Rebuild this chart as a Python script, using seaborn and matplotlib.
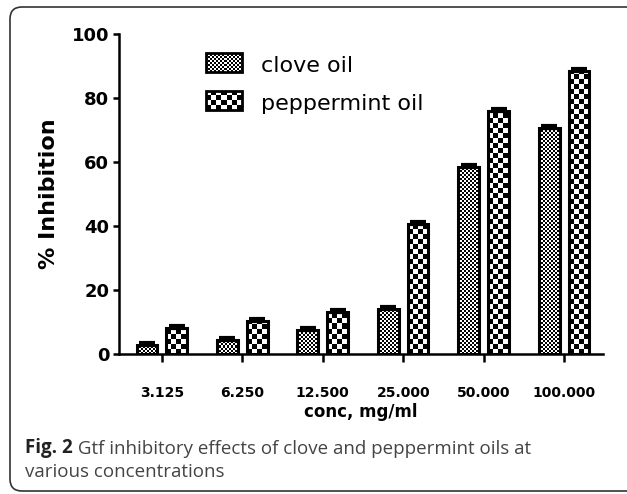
import numpy as np
import pandas as pd
import matplotlib
matplotlib.use("Agg")
import matplotlib.pyplot as plt
from matplotlib.patches import FancyBboxPatch, Rectangle
from matplotlib.transforms import IdentityTransform
import seaborn as sns

# values (% inhibition, upper error bar)
conc_labels = ["3.125", "6.250", "12.500", "25.000", "50.000", "100.000"]
oils = ["clove oil", "peppermint oil"]
clove_oil = [2.8, 4.4, 7.5, 14.0, 58.3, 70.5]
peppermint_oil = [8.0, 10.3, 13.2, 40.6, 76.0, 88.4]
clove_err = [0.6, 0.6, 0.6, 0.7, 0.7, 0.6]
peppermint_err = [0.6, 0.6, 0.6, 0.7, 0.7, 0.6]

df = pd.DataFrame({
    "conc": conc_labels * 2,
    "oil": [oils[0]] * len(conc_labels) + [oils[1]] * len(conc_labels),
    "inhibition": clove_oil + peppermint_oil,
})
errs = {oils[0]: clove_err, oils[1]: peppermint_err}
cells = {oils[0]: 2, oils[1]: 5}   # checker cell size in pixels

sns.set_style("ticks", {"axes.edgecolor": "black", "xtick.color": "black",
                        "ytick.color": "black", "text.color": "black",
                        "axes.labelcolor": "black"})
plt.rcParams["font.family"] = ["DejaVu Sans"]

W, H = 627, 494
fig = plt.figure(figsize=(W / 100, H / 100), dpi=100)
ax = fig.add_axes([119 / W, 1 - 354 / H, (603 - 119) / W, (354 - 34) / H])

sns.barplot(data=df, x="conc", y="inhibition", hue="oil", order=conc_labels,
            hue_order=oils, palette=["white", "white"], edgecolor="black",
            linewidth=2.2, width=0.74, gap=0.3, legend=False, ax=ax, zorder=3)

ax.set_xlim(-0.533, 5.484)
ax.set_ylim(0, 100)
ax.set_autoscale_on(False)


def checker(ax, x0, y0, w, h, cell, trans, clip):
    p0 = trans.transform((x0, y0))
    p1 = trans.transform((x0 + w, y0 + h))
    nx = int(np.ceil(abs(p1[0] - p0[0]) / cell))
    ny = int(np.ceil(abs(p1[1] - p0[1]) / cell))
    ex, ey = trans.inverted().transform((p0[0] + nx * cell, p0[1] + ny * cell))
    board = np.indices((ny, nx)).sum(axis=0) % 2
    im = ax.imshow(board, cmap="gray", vmin=0, vmax=1, origin="lower",
                   extent=(x0, ex, y0, ey), interpolation="nearest",
                   aspect="auto", transform=trans, zorder=2)
    im.set_clip_path(clip)


xs, ys, es = [], [], []
for p in list(ax.patches):
    cx = p.get_x() + p.get_width() / 2
    i = int(round(cx))
    oil = oils[0] if cx < i else oils[1]
    p.set_facecolor("none")
    checker(ax, p.get_x(), p.get_y(), p.get_width(), p.get_height(),
            cells[oil], ax.transData, p)
    xs.append(cx)
    ys.append(p.get_height())
    es.append(errs[oil][i])

ax.errorbar(xs, ys, yerr=[np.zeros(len(es)), es], fmt="none", ecolor="black",
            elinewidth=2.5, capsize=6, capthick=3, zorder=4)

# legend
for k, oil in enumerate(oils):
    yb = 0.881 - k * 0.119
    sw = Rectangle((0.180, yb), 0.0744, 0.059, transform=ax.transAxes,
                   facecolor="none", edgecolor="black", linewidth=2, zorder=3,
                   clip_on=False)
    ax.add_patch(sw)
    checker(ax, 0.180, yb, 0.0744, 0.059, cells[oil], ax.transAxes, sw)
    ax.text(0.293, yb, oil, transform=ax.transAxes, fontsize=16,
            va="baseline", ha="left")

ax.set_yticks(range(0, 101, 20))
ax.tick_params(axis="y", length=4, width=1.8, pad=3, labelsize=13)
ax.tick_params(axis="x", length=6, width=1.8, pad=17, labelsize=10)
plt.setp(ax.get_xticklabels() + ax.get_yticklabels(), fontweight="bold")
for s in ["left", "bottom"]:
    ax.spines[s].set_linewidth(1.8)
sns.despine(ax=ax)

ax.set_ylabel("% Inhibition", fontsize=16, fontweight="bold", labelpad=9)
ax.set_xlabel("conc, mg/ml", fontsize=12, fontweight="bold", labelpad=2)

# rounded frame and caption
frame = FancyBboxPatch((10, 3), 660, 484, boxstyle="round,pad=0,rounding_size=12",
                       transform=IdentityTransform(), facecolor="none",
                       edgecolor="#333333", linewidth=1.2)
fig.patches.append(frame)
frame.set_figure(fig)

cap_font = ["Open Sans", "DejaVu Sans"]
fig_t = fig.text(25 / W, 1 - 453 / H, "Fig. 2", family=cap_font, fontsize=13.5,
                 fontweight="bold", color="#222222", va="baseline")
ax.annotate(" Gtf inhibitory effects of clove and peppermint oils at",
            xy=(1, 0), xycoords=fig_t, va="bottom", ha="left",
            family=cap_font, fontsize=13.5, color="#444444", annotation_clip=False)
fig.text(25 / W, 1 - 477 / H, "various concentrations", family=cap_font,
         fontsize=13.5, color="#444444", va="baseline")

fig.savefig("out.png", dpi=100)
